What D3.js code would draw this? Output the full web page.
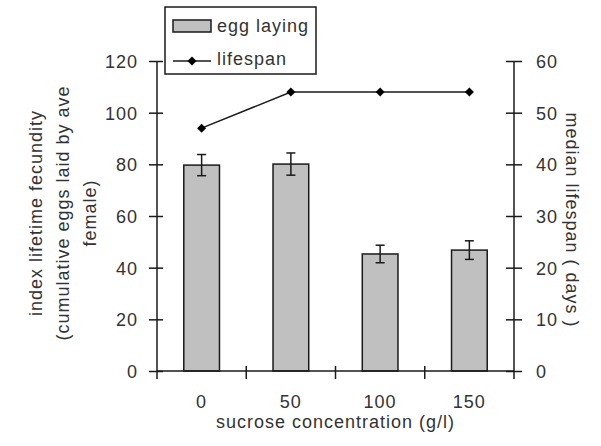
<!DOCTYPE html>
<html><head><meta charset="utf-8">
<script src="https://cdn.jsdelivr.net/npm/d3@7/dist/d3.min.js"></script>
<style>
html,body{margin:0;padding:0;background:#fff;}
svg{display:block;font-family:"Liberation Sans",Arial,sans-serif;}
</style></head>
<body>
<svg id="chart" width="601" height="446"></svg>
<script>
const categories = ["0", "50", "100", "150"];
const eggLaying = [79.7, 80.1, 45.3, 46.8];
const eggError = [4.1, 4.3, 3.4, 3.6];
const lifespan = [47, 54, 54, 54];
const leftTicks = [0, 20, 40, 60, 80, 100, 120];
const rightTicks = [0, 10, 20, 30, 40, 50, 60];
const leftTitle = ["index lifetime fecundity", "(cumulative eggs laid by ave", "female)"];
const rightTitle = "median lifespan ( days )";
const xTitle = "sucrose concentration (g/l)";
const legendItems = ["egg laying", "lifespan"];

const svg = d3.select("#chart");
const L = 157, R = 514, T = 61, B = 371;
const ink = "#1a1a1a", txt = "#333";

const x = d3.scaleBand().domain(categories).range([L, R]).paddingInner(0.6).paddingOuter(0.3);
const yL = d3.scaleLinear().domain([0, 120]).range([B, T]);
const yR = d3.scaleLinear().domain([0, 60]).range([B, T]);

const fontSize = 18, ls = 1;
function styleText(s){ return s.attr("font-size", fontSize).attr("letter-spacing", ls).attr("fill", txt); }

// bars
svg.append("g").selectAll("rect").data(categories).join("rect")
  .attr("x", d => x(d)).attr("width", x.bandwidth())
  .attr("y", (d,i) => yL(eggLaying[i])).attr("height", (d,i) => yL(0) - yL(eggLaying[i]))
  .attr("fill", "#c0c0c0").attr("stroke", ink).attr("stroke-width", 1.5);

// error bars
const eg = svg.append("g").attr("stroke", ink).attr("stroke-width", 1.5);
categories.forEach((c,i) => {
  const cx = x(c) + x.bandwidth()/2;
  const y1 = yL(eggLaying[i] + eggError[i]), y2 = yL(eggLaying[i] - eggError[i]);
  eg.append("line").attr("x1", cx).attr("x2", cx).attr("y1", y1).attr("y2", y2);
  eg.append("line").attr("x1", cx-4.5).attr("x2", cx+4.5).attr("y1", y1).attr("y2", y1);
  eg.append("line").attr("x1", cx-4.5).attr("x2", cx+4.5).attr("y1", y2).attr("y2", y2);
});

// left axis
const axL = svg.append("g").attr("transform", `translate(${L},0)`)
  .call(d3.axisLeft(yL).tickValues(leftTicks).tickSize(8).tickSizeOuter(0).tickPadding(11));
axL.select(".domain").remove();
axL.selectAll(".tick line").attr("x1", 6).attr("x2", -8).attr("stroke", ink).attr("stroke-width", 1.5);
styleText(axL.selectAll(".tick text")).attr("font-family", null).attr("dy", "0.36em");
axL.append("line").attr("x1", 0).attr("x2", 0).attr("y1", yL(120)).attr("y2", B + 8).attr("stroke", ink).attr("stroke-width", 1.5);

// right axis
const axR = svg.append("g").attr("transform", `translate(${R},0)`)
  .call(d3.axisRight(yR).tickValues(rightTicks).tickSize(8).tickSizeOuter(0).tickPadding(14));
axR.select(".domain").remove();
axR.selectAll(".tick line").attr("x1", -8).attr("x2", 8).attr("stroke", ink).attr("stroke-width", 1.5);
styleText(axR.selectAll(".tick text")).attr("font-family", null).attr("dy", "0.36em");
axR.append("line").attr("x1", 0).attr("x2", 0).attr("y1", yR(60)).attr("y2", B + 8).attr("stroke", ink).attr("stroke-width", 1.5);

// x axis baseline and boundary ticks
svg.append("line").attr("x1", L).attr("x2", R).attr("y1", B).attr("y2", B).attr("stroke", ink).attr("stroke-width", 1.5);
const gap = (x.step() - x.bandwidth()) / 2;
svg.append("g").selectAll("line").data(categories.slice(1)).join("line")
  .attr("x1", d => x(d) - gap).attr("x2", d => x(d) - gap)
  .attr("y1", B - 5).attr("y2", B + 8).attr("stroke", ink).attr("stroke-width", 1.5);
styleText(svg.append("g").selectAll("text").data(categories).join("text")
  .attr("x", d => x(d) + x.bandwidth()/2).attr("y", 408).attr("text-anchor", "middle").text(d => d));

// x title
styleText(svg.append("text").attr("x", (L+R)/2).attr("y", 428).attr("text-anchor", "middle").text(xTitle));

// left title
const lbx = [42, 69, 96];
leftTitle.forEach((t,i) => {
  styleText(svg.append("text").attr("transform", `translate(${lbx[i]},213) rotate(-90)`)
    .attr("text-anchor", "middle").text(t));
});
// right title
styleText(svg.append("text").attr("transform", `translate(566,220) rotate(90)`)
  .attr("text-anchor", "middle").text(rightTitle));

// lifespan line
const cxf = (d) => x(d) + x.bandwidth()/2;
svg.append("path").datum(categories)
  .attr("d", d3.line().x(d => cxf(d)).y((d,i) => yR(lifespan[i])))
  .attr("fill", "none").attr("stroke", ink).attr("stroke-width", 1.5);
const diamond = d3.symbol(d3.symbolSquare, 40);
svg.append("g").selectAll("path").data(categories).join("path")
  .attr("d", diamond).attr("fill", "#000")
  .attr("transform", (d,i) => `translate(${cxf(d)},${yR(lifespan[i])}) rotate(45)`);

// legend
const lg = svg.append("g");
lg.append("rect").attr("x", 165).attr("y", 7).attr("width", 151).attr("height", 67)
  .attr("fill", "#fff").attr("stroke", ink).attr("stroke-width", 1.5);
lg.append("rect").attr("x", 173).attr("y", 20).attr("width", 38).attr("height", 12)
  .attr("fill", "#c0c0c0").attr("stroke", ink).attr("stroke-width", 1.5);
lg.append("line").attr("x1", 173).attr("x2", 211).attr("y1", 61).attr("y2", 61).attr("stroke", ink).attr("stroke-width", 1.5);
lg.append("path").attr("d", diamond).attr("fill", "#000").attr("transform", "translate(192,61) rotate(45)");
styleText(lg.append("text").attr("x", 217).attr("y", 32).text(legendItems[0]));
styleText(lg.append("text").attr("x", 217).attr("y", 65).text(legendItems[1]));
</script>
</body></html>
